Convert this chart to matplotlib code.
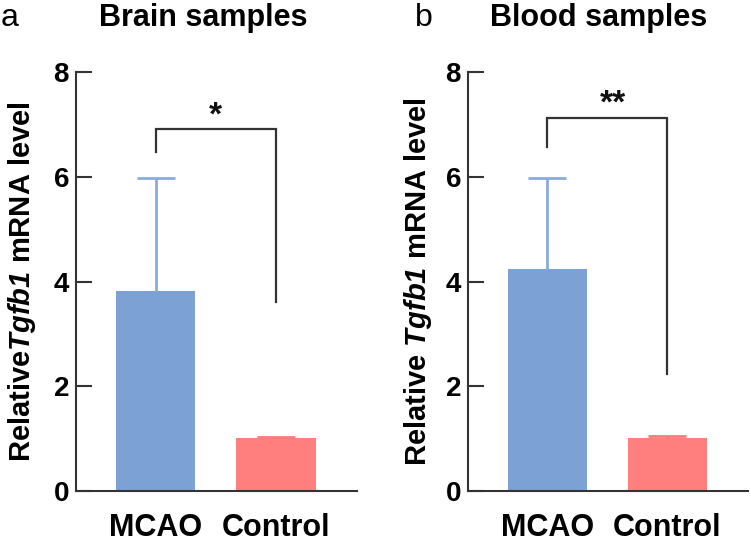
import matplotlib
matplotlib.use("Agg")
import matplotlib.pyplot as plt

plt.rcParams['font.family'] = ['Liberation Sans', 'DejaVu Sans']
plt.rcParams['mathtext.fontset'] = 'custom'
plt.rcParams['mathtext.bfit'] = 'Liberation Sans:italic:bold'
plt.rcParams['mathtext.rm'] = 'Liberation Sans:bold'

# ---- data ----
categories = ["MCAO", "Control"]
brain_means = [3.81, 1.01]
brain_err_upper = [2.17, 0.03]
blood_means = [4.23, 1.01]
blood_err_upper = [1.74, 0.04]

panel_letters = ["a", "b"]
panel_titles = ["Brain samples", "Blood samples"]
ylabels = [r"Relative$\mathbfit{Tgfb1}$ mRNA level",
           r"Relative $\mathbfit{Tgfb1}$ mRNA level"]
y_ticks = [0, 2, 4, 6, 8]

# significance brackets: (left bottom, top, right bottom), label, label baseline
brackets = [(6.48, 6.91, 3.60), (6.57, 7.13, 2.24)]
sig_labels = ["*", "**"]
sig_y = [7.0, 7.22]
sig_x = [0.5, 0.55]

bar_colors = ["#7BA1D5", "#FF7F7F"]
err_colors = ["#8AABDD", "#F87C7C"]
dark = "#333333"

fig = plt.figure(figsize=(7.51, 5.44), dpi=100)
W, H = 751, 544
axes_px = [(76, 357), (468, 748)]
y0_px, y8_px = 491, 72

means_all = [brain_means, blood_means]
errs_all = [brain_err_upper, blood_err_upper]
label_x = [-0.135, -0.122]
title_cx = [203, 599]
letter_x = [1, 415]

for i in range(2):
    l, r = axes_px[i]
    ax = fig.add_axes([l / W, 1 - y0_px / H, (r - l) / W, (y0_px - y8_px) / H])
    xs = list(range(len(categories)))
    ax.bar(xs, means_all[i], width=0.66, color=bar_colors, zorder=2)
    for j, x in enumerate(xs):
        eb = ax.errorbar(x, means_all[i][j], yerr=[[0], [errs_all[i][j]]],
                         ecolor=err_colors[j], elinewidth=2, capsize=14, capthick=2,
                         fmt='none', zorder=3)
        caps = eb[1]
        if len(caps) > 1:
            caps[0].set_visible(False)
    ax.set_xlim(-0.66, 1.67)
    ax.set_ylim(0, 8)
    ax.set_yticks(y_ticks)
    ax.set_xticks(xs)
    ax.set_xticklabels(categories, fontsize=22, fontweight='bold')
    ax.tick_params(axis='x', length=0, pad=16)
    ax.tick_params(axis='y', direction='in', length=11.5, width=1.5,
                   color=dark, pad=5, labelsize=20)
    for t in ax.get_yticklabels():
        t.set_fontweight('bold')
    for s in ['top', 'right']:
        ax.spines[s].set_visible(False)
    for s in ['left', 'bottom']:
        ax.spines[s].set_linewidth(1.5)
        ax.spines[s].set_color(dark)
    ax.set_ylabel(ylabels[i], fontsize=21, fontweight='bold')
    ax.yaxis.set_label_coords(label_x[i], 0.5)

    lb, top, rb = brackets[i]
    ax.plot([0, 0, 1, 1], [lb, top, top, rb], color=dark, lw=1.6,
            solid_joinstyle='miter', zorder=4)
    ax.text(sig_x[i], sig_y[i], sig_labels[i], ha='center', va='baseline',
            fontsize=24, fontweight='bold', color='#111111')

    fig.text(title_cx[i] / W, 1 - 26 / H, panel_titles[i], ha='center',
             va='baseline', fontsize=22, fontweight='bold')
    fig.text(letter_x[i] / W, 1 - 26 / H, panel_letters[i], ha='left',
             va='baseline', fontsize=23)

fig.savefig("out.png", dpi=100, facecolor='white')
